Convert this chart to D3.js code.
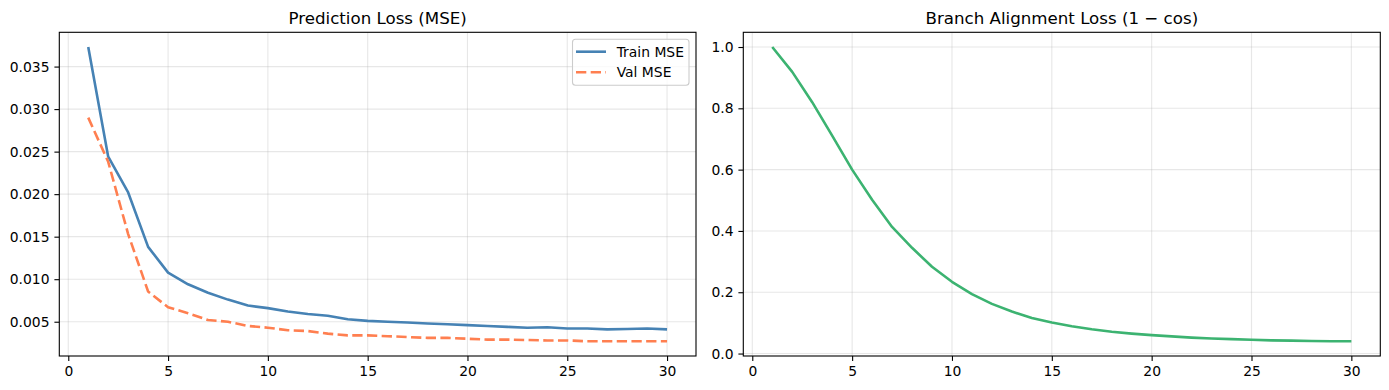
<!DOCTYPE html>
<html><head><meta charset="utf-8">
<script src="https://cdn.jsdelivr.net/npm/d3@7"></script>
<style>html,body{margin:0;padding:0;background:#fff;}svg{display:block;font-family:"DejaVu Sans",sans-serif;}</style>
</head><body>
<svg id="c" width="1389" height="390"></svg>
<script>
const epochs = d3.range(1, 31);
const trainMSE = [0.0373,0.0244,0.0202,0.0138,0.01077,0.0094,0.0084,0.0076,0.0069,0.0066,0.0062,0.0059,0.0057,0.0053,0.0051,0.0050,0.0049,0.0048,0.0047,0.0046,0.0045,0.0044,0.0043,0.00435,0.0042,0.0042,0.0041,0.00415,0.0042,0.0041];
const valMSE = [0.0290,0.0238,0.0153,0.00855,0.0067,0.0060,0.0052,0.0050,0.0045,0.0043,0.0040,0.0039,0.0036,0.0034,0.0034,0.0033,0.0032,0.0031,0.0031,0.0030,0.0029,0.0029,0.00285,0.0028,0.0028,0.0027,0.0027,0.0027,0.0027,0.0027];
const alignLoss = [1.0,0.919,0.82,0.711,0.60,0.502,0.413,0.345,0.283,0.234,0.194,0.162,0.137,0.116,0.101,0.089,0.079,0.071,0.065,0.060,0.056,0.052,0.049,0.047,0.045,0.043,0.042,0.041,0.040,0.040];
const xTicks = [0,5,10,15,20,25,30];
const leftYTicks = [0.005,0.010,0.015,0.020,0.025,0.030,0.035];
const rightYTicks = [0.0,0.2,0.4,0.6,0.8,1.0];
const titles = ["Prediction Loss (MSE)", "Branch Alignment Loss (1 \u2212 cos)"];
const legendLabels = ["Train MSE", "Val MSE"];
const colors = {train:"#4682B4", val:"#FF7F50", align:"#3CB371"};

(function(){
const svg = d3.select("#c");
const yTop = 32.3, yBot = 356;
function pad(ext){const r = ext[1]-ext[0]; return [ext[0]-0.05*r, ext[1]+0.05*r];}

function panel(x0, x1, yDomain, yTicks, yFmt, series, title){
  const g = svg.append("g");
  const x = d3.scaleLinear().domain(pad([1,30])).range([x0, x1]);
  const y = d3.scaleLinear().domain(yDomain).range([yBot, yTop]);
  g.append("g").selectAll("line").data(xTicks).join("line")
    .attr("x1", d=>x(d)).attr("x2", d=>x(d)).attr("y1", yTop).attr("y2", yBot)
    .attr("stroke","#b0b0b0").attr("stroke-opacity",0.3).attr("stroke-width",1.1);
  g.append("g").selectAll("line").data(yTicks).join("line")
    .attr("y1", d=>y(d)).attr("y2", d=>y(d)).attr("x1", x0).attr("x2", x1)
    .attr("stroke","#b0b0b0").attr("stroke-opacity",0.3).attr("stroke-width",1.1);
  const clip = "clip"+Math.round(x0);
  g.append("clipPath").attr("id",clip).append("rect").attr("x",x0).attr("y",yTop).attr("width",x1-x0).attr("height",yBot-yTop);
  series.forEach(s=>{
    g.append("path").datum(s.values)
      .attr("clip-path","url(#"+clip+")")
      .attr("d", d3.line().x((d,i)=>x(epochs[i])).y(d=>y(d)))
      .attr("fill","none").attr("stroke", s.color).attr("stroke-width",2.6)
      .attr("stroke-dasharray", s.dash ? "10.3,4.4" : null)
      .attr("stroke-linejoin","round");
  });
  const xa = g.append("g").attr("transform",`translate(0,${yBot})`)
    .call(d3.axisBottom(x).tickValues(xTicks).tickFormat(d3.format("d")).tickSizeInner(4.9).tickSizeOuter(0).tickPadding(4.9));
  const ya = g.append("g").attr("transform",`translate(${x0},0)`)
    .call(d3.axisLeft(y).tickValues(yTicks).tickFormat(d3.format(yFmt)).tickSizeInner(4.9).tickSizeOuter(0).tickPadding(4.9));
  [xa, ya].forEach(a=>{
    a.select(".domain").remove();
    a.selectAll("line").attr("stroke","#000").attr("stroke-width",1.1);
    a.selectAll("text").attr("font-family","DejaVu Sans").attr("font-size","13.89px").attr("fill","#000");
  });
  xa.selectAll("text").attr("dy","0.76em");
  g.append("rect").attr("x",x0).attr("y",yTop).attr("width",x1-x0).attr("height",yBot-yTop)
    .attr("fill","none").attr("stroke","#000").attr("stroke-width",1.1);
  g.append("text").attr("x",(x0+x1)/2).attr("y",yTop-8.3).attr("text-anchor","middle")
    .attr("font-size","16.67px").attr("fill","#000").text(title);
  return {x,y,g};
}

panel(59.3, 696, pad([d3.min(valMSE), d3.max(trainMSE)]), leftYTicks, ".3f",
  [{values:trainMSE,color:colors.train},{values:valMSE,color:colors.val,dash:true}], titles[0]);
panel(743.3, 1380.3, pad([d3.min(alignLoss), d3.max(alignLoss)]), rightYTicks, ".1f",
  [{values:alignLoss,color:colors.align}], titles[1]);

const lg = svg.append("g");
lg.append("rect").attr("x",572.5).attr("y",39.3).attr("width",116.5).attr("height",46)
  .attr("rx",3).attr("fill","#fff").attr("fill-opacity",0.8).attr("stroke","#cccccc").attr("stroke-width",1.1);
[{c:colors.train,d:null,y:51.7},{c:colors.val,d:"10.3,4.4",y:72.3}].forEach((e,i)=>{
  lg.append("line").attr("x1",576).attr("x2",606).attr("y1",e.y).attr("y2",e.y)
    .attr("stroke",e.c).attr("stroke-width",2.6).attr("stroke-dasharray",e.d);
  lg.append("text").attr("x",616.7).attr("y",e.y).attr("dy","0.35em")
    .attr("font-size","13.89px").attr("fill","#000").text(legendLabels[i]);
});
})();
</script>
</body></html>
